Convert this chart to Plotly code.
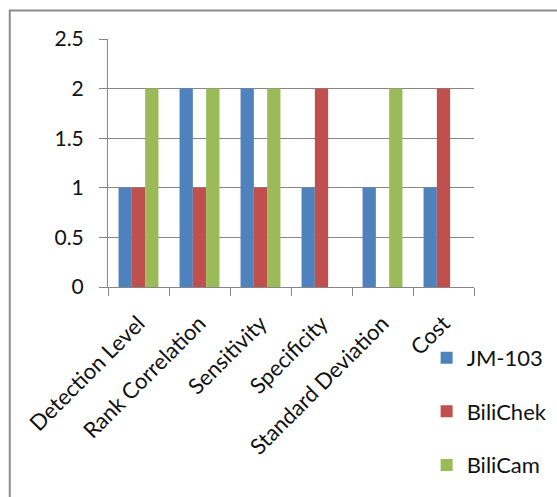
import plotly.graph_objects as go

categories = ["Detection Level", "Rank Correlation", "Sensitivity",
              "Specificity", "Standard Deviation", "Cost"]
series_names = ["JM-103", "BiliChek", "BiliCam"]
jm103 = [1, 2, 2, 1, 1, 1]
bilichek = [1, 1, 1, 2, 0, 2]
bilicam = [2, 2, 2, 0, 2, 0]
colors = ["#4F81BD", "#C0504D", "#9BBB59"]
y_ticks = [0, 0.5, 1, 1.5, 2, 2.5]

W, H = 557, 497
L, R, T, B = 107.5, 474.5, 38.5, 287
pw, ph = R - L, B - T

def px(x):
    return (x - L) / pw

def py(y):
    return (B - y) / ph

fig = go.Figure()
for name, vals, col in zip(series_names, [jm103, bilichek, bilicam], colors):
    fig.add_trace(go.Bar(x=categories, y=vals, name=name, legendgroup=name,
                         marker=dict(color=col, line=dict(width=0))))

grid = "#868686"
fig.update_layout(
    width=W, height=H,
    margin=dict(l=L, r=W - R, t=T, b=H - B, pad=0, autoexpand=False),
    paper_bgcolor="white", plot_bgcolor="white",
    barmode="group", bargap=0.346, bargroupgap=0,
    font=dict(family="Lato", size=21, color="#111111"),
    showlegend=True,
    legend=dict(x=px(427), xanchor="left", y=py(337), yanchor="top",
                tracegroupgap=22, bgcolor="rgba(0,0,0,0)",
                font=dict(size=22), itemsizing="constant"),
    xaxis=dict(showline=True, linecolor=grid, linewidth=1,
               ticks="outside", tickson="boundaries", ticklen=8,
               tickcolor=grid, tickangle=-45, showgrid=False,
               automargin=False,
               ticklabelstandoff=14, tickfont=dict(size=22)),
    yaxis=dict(range=[0, 2.5], tickvals=y_ticks,
               ticktext=[("%g" % v) for v in y_ticks],
               showgrid=True, gridcolor=grid, gridwidth=1,
               showline=True, linecolor=grid, linewidth=1,
               ticks="outside", ticklen=8, tickcolor=grid,
               zeroline=False, ticklabelstandoff=11, automargin=False,
               tickfont=dict(size=21)),
    shapes=[dict(type="rect", xref="paper", yref="paper",
                 x0=px(9), x1=px(600), y0=py(600), y1=py(10),
                 line=dict(color="#8c8c8c", width=2), layer="below")],
)

fig.write_html("out.html")
